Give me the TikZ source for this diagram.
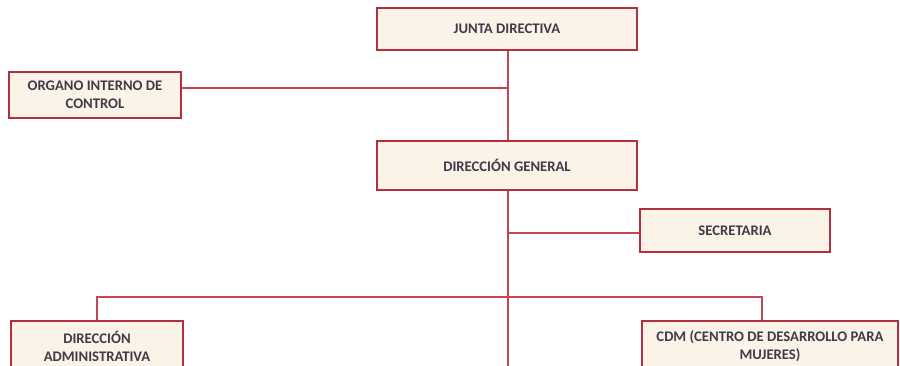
\documentclass[tikz,border=0pt]{standalone}
\usepackage{fontspec}
\setmainfont{Carlito}
\definecolor{boxfill}{RGB}{251,243,232}
\definecolor{boxline}{RGB}{178,48,60}
\definecolor{connline}{RGB}{192,72,84}
\definecolor{txt}{RGB}{62,60,72}
\begin{document}
\begin{tikzpicture}[x=0.75pt,y=-0.75pt,
  orgbox/.style={draw=boxline,fill=boxfill,line width=1.7pt,inner sep=0pt,
     font=\bfseries\fontsize{11}{13.5}\selectfont,text=txt,align=center},
  boxtext/.style={font=\bfseries\fontsize{11}{13.5}\selectfont,text=txt,align=center,anchor=north},
  conn/.style={draw=connline,line width=1.4pt}]
\useasboundingbox (0,0) rectangle (900,365);
\clip (0,0) rectangle (900,365);
\node[orgbox,minimum width=260*0.75pt,minimum height=42*0.75pt] (jd) at (507,29) {JUNTA DIRECTIVA};
\node[orgbox,minimum width=172*0.75pt,minimum height=46*0.75pt] (oic) at (95,95) {ORGANO INTERNO DE\\CONTROL};
\node[orgbox,minimum width=260*0.75pt,minimum height=49*0.75pt] (dg) at (507,165.5) {DIRECCIÓN GENERAL};
\node[orgbox,minimum width=190*0.75pt,minimum height=43*0.75pt] (sec) at (735,230.5) {SECRETARIA};
\node[orgbox,minimum width=172*0.75pt,minimum height=64*0.75pt,anchor=north] (da) at (97,320) {};
\node[orgbox,minimum width=256*0.75pt,minimum height=64*0.75pt,anchor=north] (cdm) at (770,320) {};
\node[boxtext] (datext) at (97,326) {DIRECCIÓN\\ADMINISTRATIVA};
\node[boxtext] (cdmtext) at (770,326) {CDM (CENTRO DE DESARROLLO PARA\\MUJERES)};
\coordinate (bus) at (508,297);
\coordinate (bottom) at (508,370);
\draw[conn] (jd.south -| bus) -- (dg.north -| bus);
\draw[conn] (oic.east |- 0,88) -- (508,88);
\draw[conn] (dg.south -| bus) -- (bottom);
\draw[conn] (bus |- 0,233) -- (sec.west |- 0,233);
\draw[conn] (da.north) -- (97,297) -- (762,297) -- (cdm.north -| 762,0);
\end{tikzpicture}
\end{document}
